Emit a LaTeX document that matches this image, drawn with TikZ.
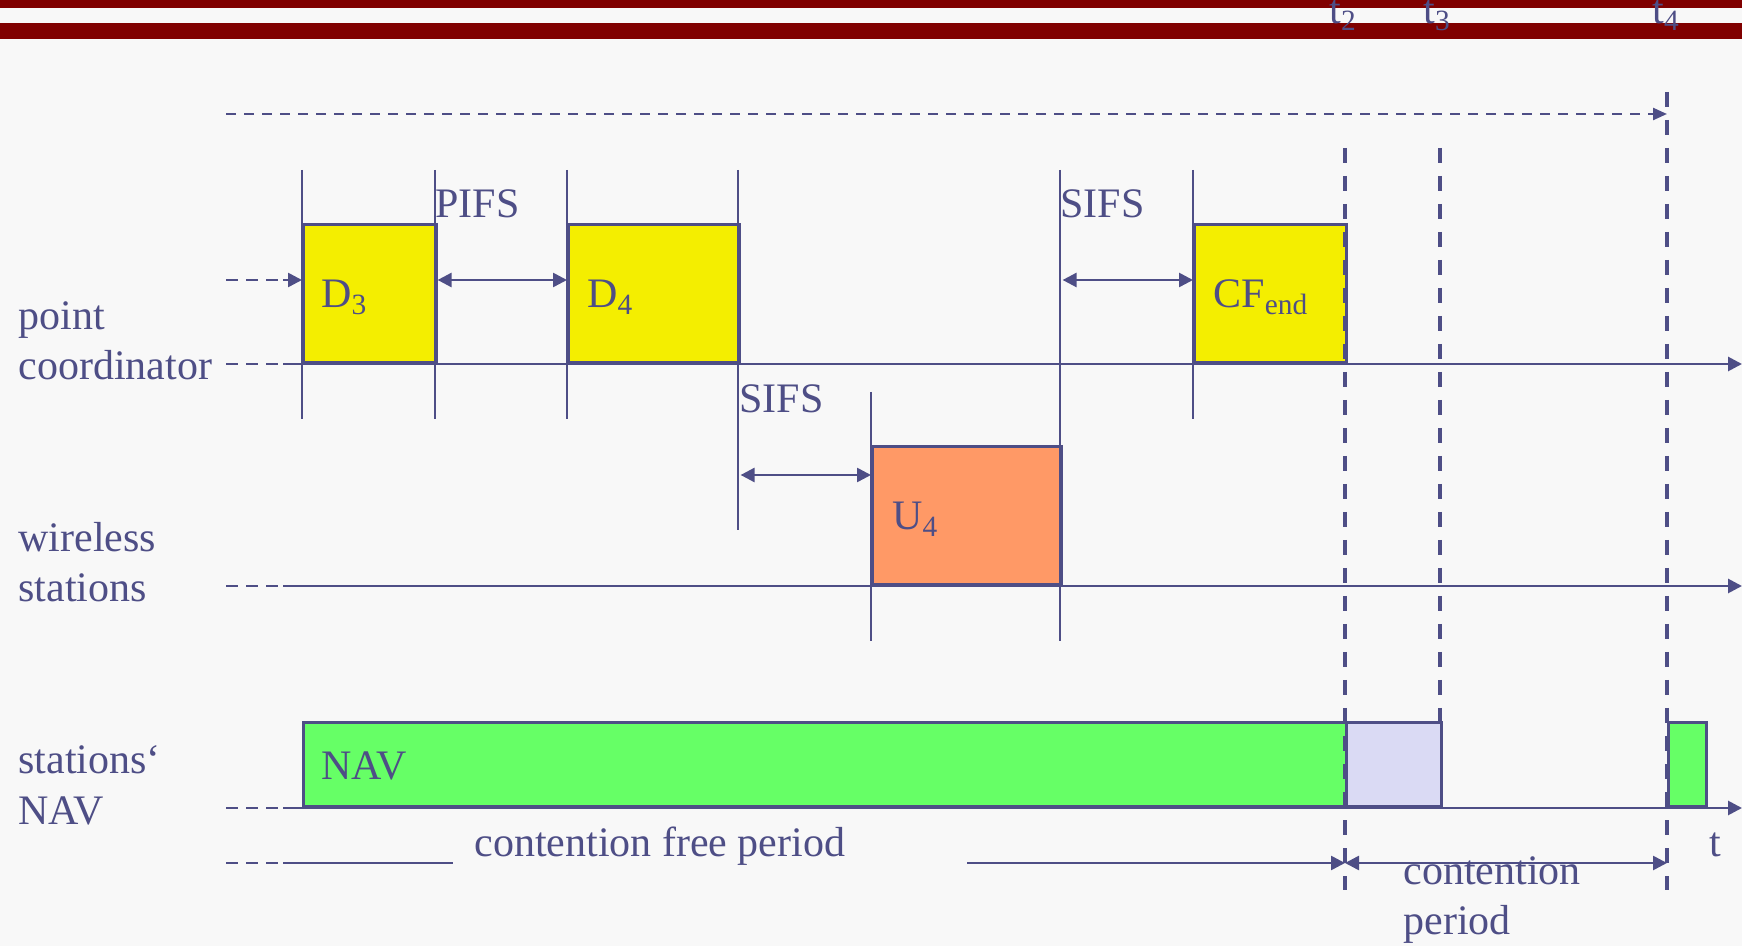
\documentclass[tikz,border=0pt]{standalone}
\usepackage{fontspec}
\setmainfont{Liberation Serif}
\usetikzlibrary{arrows.meta,positioning,calc}
\definecolor{ink}{HTML}{4E4E86}
\definecolor{bar}{HTML}{800000}
\definecolor{bg}{HTML}{F8F8F8}
\definecolor{pcf}{HTML}{F4EE00}
\definecolor{upl}{HTML}{FF9966}
\definecolor{nav}{HTML}{66FF66}
\definecolor{cper}{HTML}{DADAF4}
\tikzset{
  frm/.style={draw=ink,line width=1.3pt,inner sep=0pt,anchor=south west,minimum height=69pt},
  txt/.style={text=ink,font=\fontsize{21}{25}\selectfont,inner sep=0pt,anchor=base west},
  axis/.style={draw=ink,line width=1.4pt,-{Triangle[length=7pt,width=7pt]}},
  lead/.style={draw=ink,line width=1.4pt,dash pattern=on 6pt off 4pt},
  tick/.style={draw=ink,line width=1.1pt},
  tmark/.style={draw=ink,line width=1.8pt,dash pattern=on 7.5pt off 6.5pt},
  gap/.style={draw=ink,line width=1.3pt,{Triangle[length=7pt,width=7pt]}-{Triangle[length=7pt,width=7pt]}},
  ar/.style={draw=ink,line width=1.3pt,-{Triangle[length=7pt,width=7pt]}},
}

\begin{document}
\begin{tikzpicture}[x=0.5pt,y=-0.5pt]
\useasboundingbox (0,0) rectangle (1742,946);
\fill[bg] (0,0) rectangle (1742,946);
\fill[bar] (0,0) rectangle (1742,8);
\fill[bar] (0,23) rectangle (1742,39);

% frames on the three rows
\node[frm,fill=pcf,minimum width=66.5pt] (d3) at (302,364) {};
\node[frm,fill=pcf,minimum width=85.5pt] (d4) at (567,364) {};
\node[frm,fill=pcf,minimum width=76pt] (cfe) at (1193,364) {};
\node[frm,fill=upl,minimum width=94.5pt] (u4) at (871,586) {};
\node[frm,fill=nav,minimum width=521.5pt,minimum height=42pt] (navb) at (302,808) {};
\node[frm,fill=cper,minimum width=47.5pt,minimum height=42pt] (cpb) at (1345,808) {};
\node[frm,fill=nav,minimum width=19pt,minimum height=42pt] (navc) at (1667,808) {};

% time axes
\coordinate (pc0) at (226,364); \coordinate (pc1) at (283,364); \coordinate (pcT) at (1742,364);
\coordinate (ws0) at (226,586); \coordinate (ws1) at (283,586); \coordinate (wsT) at (1742,586);
\coordinate (nv0) at (226,808); \coordinate (nv1) at (283,808); \coordinate (nvT) at (1742,808);
\draw[lead] (pc0)--(pc1); \draw[axis] (pc1)--(pcT);
\draw[lead] (ws0)--(ws1); \draw[axis] (ws1)--(wsT);
\draw[lead] (nv0)--(nv1); \draw[axis] (nv1)--(nvT);

% frame borders
\draw[tick] (302,170)--(302,419); \draw[tick] (435,170)--(435,419);
\draw[tick] (567,170)--(567,419); \draw[tick] (738,170)--(738,530);
\draw[tick] (871,392)--(871,641); \draw[tick] (1060,170)--(1060,641);
\draw[tick] (1193,170)--(1193,419);

% spacings
\coordinate (in0) at (226,280); \coordinate (in1) at (283,280); \coordinate (low) at (0,475);
\draw[lead] (in0)--(in1); \draw[ar] (in1)--(d3.west |- in0);
\draw[gap] (d3.east |- in0)--(d4.west |- in0);
\draw[gap] (d4.east |- low)--(u4.west |- low);
\draw[gap] (u4.east |- in0)--(cfe.west |- in0);

% periods
\coordinate (cf0) at (226,863); \coordinate (cf1) at (283,863); \coordinate (cf2) at (453,863);
\coordinate (cf3) at (967,863); \coordinate (t2b) at (1345,863); \coordinate (t4b) at (1667,863);
\coordinate (top0) at (226,114); \coordinate (top1) at (1667,114);
\draw[lead] (cf0)--(cf1); \draw[tick,line width=1.4pt] (cf1)--(cf2);
\draw[ar] (cf3)--(t2b);
\draw[gap] (t2b)--(t4b);
\draw[lead,line width=1.2pt,dash pattern=on 5pt off 4pt,-{Triangle[length=7pt,width=6pt]}] (top0)--(top1);

% instants
\draw[tmark] (1345,148)--(1345,890);
\draw[tmark] (1440,148)--(1440,724);
\draw[tmark] (1667,92)--(1667,890);

% texts
\node[txt] (pcA) at (18,330) {point};
\node[txt] (pcB) at (18,380) {coordinator};
\node[txt] (wsA) at (18,552) {wireless};
\node[txt] (wsB) at (18,602) {stations};
\node[txt] (nvA) at (18,773) {stations‘};
\node[txt] (nvB) at (18,824) {NAV};
\node[txt] (d3t) at (321,308) {D\textsubscript{3}};
\node[txt] (d4t) at (587,308) {D\textsubscript{4}};
\node[txt] (cft) at (1213,308) {CF\textsubscript{end}};
\node[txt] (u4t) at (892,530) {U\textsubscript{4}};
\node[txt] (navt) at (321,779) {NAV};
\node[txt] (pifs) at (435,218) {PIFS};
\node[txt] (sifsA) at (739,413) {SIFS};
\node[txt] (sifsB) at (1060,218) {SIFS};
\node[txt] (cfpt) at (474,856) {contention free period};
\node[txt] (cptA) at (1403,884) {contention};
\node[txt] (cptB) at (1403,934) {period};
\node[txt] (tt) at (1709,856) {t};
\node[txt] (t2) at (1329,24) {t\textsubscript{2}};
\node[txt] (t3) at (1423,24) {t\textsubscript{3}};
\node[txt] (t4) at (1652,24) {t\textsubscript{4}};
\end{tikzpicture}
\end{document}
